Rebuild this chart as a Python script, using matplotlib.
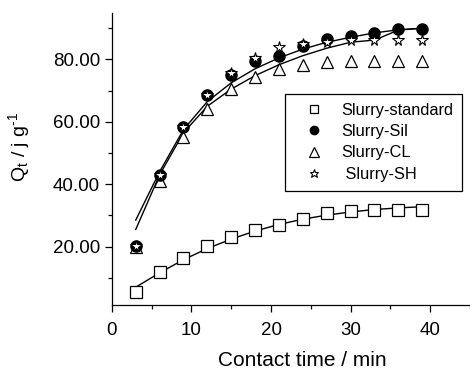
import matplotlib
matplotlib.use("Agg")
import matplotlib.pyplot as plt
from matplotlib.ticker import MultipleLocator, FormatStrFormatter

plt.rcParams.update({
    "font.family": "Liberation Sans",
    "mathtext.default": "regular",
    "font.size": 13,
})

# ── Data ─────────────────────────────────────────────────────────────────────
time_min = [3, 6, 9, 12, 15, 18, 21, 24, 27, 30, 33, 36, 39]

q_standard = [5.6, 11.9, 16.4, 20.3, 23.0, 25.3, 27.0, 28.8, 30.7, 31.3, 31.8, 31.8, 31.8]
q_sil = [20.3, 42.9, 58.2, 68.6, 75.0, 79.6, 81.1, 84.4, 86.4, 87.5, 88.6, 89.7, 89.7]
q_cl = [19.8, 41.0, 55.0, 64.2, 70.4, 74.4, 76.8, 78.3, 79.1, 79.6, 79.6, 79.6, 79.6]
q_sh = [20.3, 42.9, 58.2, 68.6, 75.5, 80.3, 84.0, 84.8, 85.6, 86.2, 86.2, 86.2, 86.2]

# fitted kinetic curves at the same times
fit_standard = [7.0, 11.6, 15.8, 19.4, 22.4, 25.0, 27.1, 28.8, 30.1, 31.1, 31.9, 32.4, 32.8]
fit_upper_a = [28.5, 44.0, 57.5, 66.5, 72.5, 77.0, 80.5, 83.3, 85.5, 87.1, 88.5, 89.5, 90.0]
fit_upper_b = [25.5, 43.0, 56.5, 65.0, 70.5, 74.8, 78.3, 81.2, 83.6, 85.5, 86.2, 89.4, 90.0]

fig = plt.figure(figsize=(4.70, 3.71), dpi=100)
ax = fig.add_axes([0.238, 0.178, 0.762, 0.788])

# fit lines
for fit in (fit_standard, fit_upper_a, fit_upper_b):
    ax.plot(time_min, fit, "-", color="black", lw=1.0, zorder=2)

ax.plot(time_min, q_standard, "s", ms=8, mfc="white", mec="black", mew=0.9,
        ls="none", zorder=3, label="Slurry-standard")
ax.plot(time_min, q_cl, "^", ms=9, mfc="white", mec="black", mew=0.9,
        ls="none", zorder=3, label="Slurry-CL")
ax.plot(time_min, q_sil, "o", ms=8, mfc="black", mec="black",
        ls="none", zorder=4, label="Slurry-Sil")
ax.plot(time_min, q_sh, "*", ms=8.5, mfc="white", mec="black", mew=0.8,
        ls="none", zorder=5, label=" Slurry-SH")

ax.set_xlim(0, 45)
ax.set_ylim(1.3, 95)
ax.xaxis.set_major_locator(MultipleLocator(10))
ax.xaxis.set_minor_locator(MultipleLocator(5))
ax.yaxis.set_minor_locator(MultipleLocator(10))
ax.yaxis.set_major_formatter(FormatStrFormatter("%.2f"))
ax.set_yticks([20, 40, 60, 80])
ax.tick_params(which="both", direction="out", width=0.9)
ax.tick_params(which="major", length=5, labelsize=13.5)
ax.tick_params(axis="x", which="major", pad=7)
ax.tick_params(which="minor", length=3)

for side in ("top", "right"):
    ax.spines[side].set_visible(False)
for side in ("left", "bottom"):
    ax.spines[side].set_linewidth(0.9)

ax.set_xlabel("Contact time / min", fontsize=15)
ax.xaxis.set_label_coords(0.532, -0.158)
ax.set_ylabel("Q$_t$ / j g$^{\u20101}$", fontsize=14)
ax.yaxis.set_label_coords(-0.222, 0.54)

handles, labels = ax.get_legend_handles_labels()
order = [0, 2, 1, 3]
leg = ax.legend([handles[i] for i in order], [labels[i] for i in order],
                loc="upper left", bbox_to_anchor=(0.483, 0.722),
                borderaxespad=0, markerscale=0.75,
                fontsize=11.8, frameon=True, fancybox=False, framealpha=1,
                edgecolor="black", handletextpad=0.4, borderpad=0.55,
                labelspacing=0.38, handlelength=2.5)
leg.get_frame().set_linewidth(0.9)

fig.savefig("out.png", dpi=100, facecolor="white")
